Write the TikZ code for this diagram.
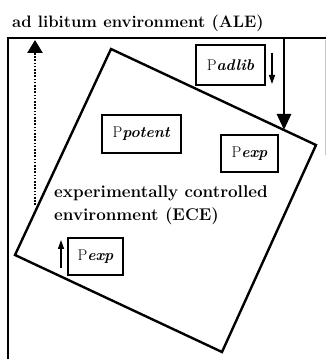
\documentclass[tikz,border=0pt]{standalone}
\usepackage{fontspec}
\usetikzlibrary{arrows.meta}
\begin{document}
\begin{tikzpicture}[x=1pt,y=1pt,
  border/.style={line width=2.4pt, line join=miter},
  ecesq/.style={line width=2.4pt, line join=miter},
  pbox/.style={draw, line width=1.2pt, inner sep=0pt, font=\fontsize{15.5}{18}\selectfont},
  ttl/.style={font=\bfseries\fontsize{16.6}{20}\selectfont, inner sep=0pt},
  lbl/.style={font=\bfseries\fontsize{17}{20}\selectfont, inner sep=0pt},
  smallarr/.style={line width=1.4pt, -{Triangle[length=9pt,width=6pt]}},
  thickarr/.style={line width=2.8pt, -{Triangle[length=16pt,width=14pt]}},
  dotarr/.style={line width=2.6pt, dash pattern=on 1.6pt off 1.6pt, -{Triangle[length=13pt,width=15pt]}}
]
\useasboundingbox (0,0) rectangle (326,359);
% title
\node[ttl, anchor=base west] (ale) at (12,331) {ad libitum environment (ALE)};
% outer environment frame
\coordinate (tl) at (8,321);
\coordinate (tr) at (328,321);
\coordinate (bl) at (8,-2);
\draw[border] (bl) -- (tl) -- (tr);
\coordinate (rt) at (325,319);
\coordinate (rb) at (325,204);
\draw[gray!45, line width=1pt] (rt) -- (rb);
% tilted ECE square
\coordinate (sqT) at (111,310);
\coordinate (sqR) at (316,214);
\coordinate (sqB) at (222,7);
\coordinate (sqL) at (15,104);
\draw[ecesq] (sqT) -- (sqR) -- (sqB) -- (sqL) -- cycle;
% boxes
\node[pbox, minimum width=69pt, minimum height=40pt] (adlib) at (230.5,294) {P\textbf{\itshape adlib}};
\node[pbox, minimum width=79pt, minimum height=38pt] (potent) at (141.5,225) {P\textbf{\itshape potent}};
\node[pbox, minimum width=57pt, minimum height=37pt] (expA) at (249.5,205.5) {P\textbf{\itshape exp}};
\node[pbox, minimum width=55pt, minimum height=37pt] (expB) at (95.5,102.5) {P\textbf{\itshape exp}};
% ECE label
\node[lbl, anchor=base west] (ece1) at (54,161) {experimentally controlled};
\node[lbl, anchor=base west] (ece2) at (54,138) {environment (ECE)};
% arrows
\coordinate (d1) at (272,306);
\coordinate (d2) at (272,275);
\draw[smallarr] (d1) -- (d2);
\coordinate (u1) at (61,91);
\coordinate (u2) at (61,119);
\draw[smallarr] (u1) -- (u2);
\coordinate (t1) at (284,321);
\coordinate (t2) at (284,229);
\draw[thickarr] (t1) -- (t2);
\coordinate (p1) at (35,154);
\coordinate (p2) at (35,319);
\draw[dotarr] (p1) -- (p2);
\end{tikzpicture}
\end{document}
